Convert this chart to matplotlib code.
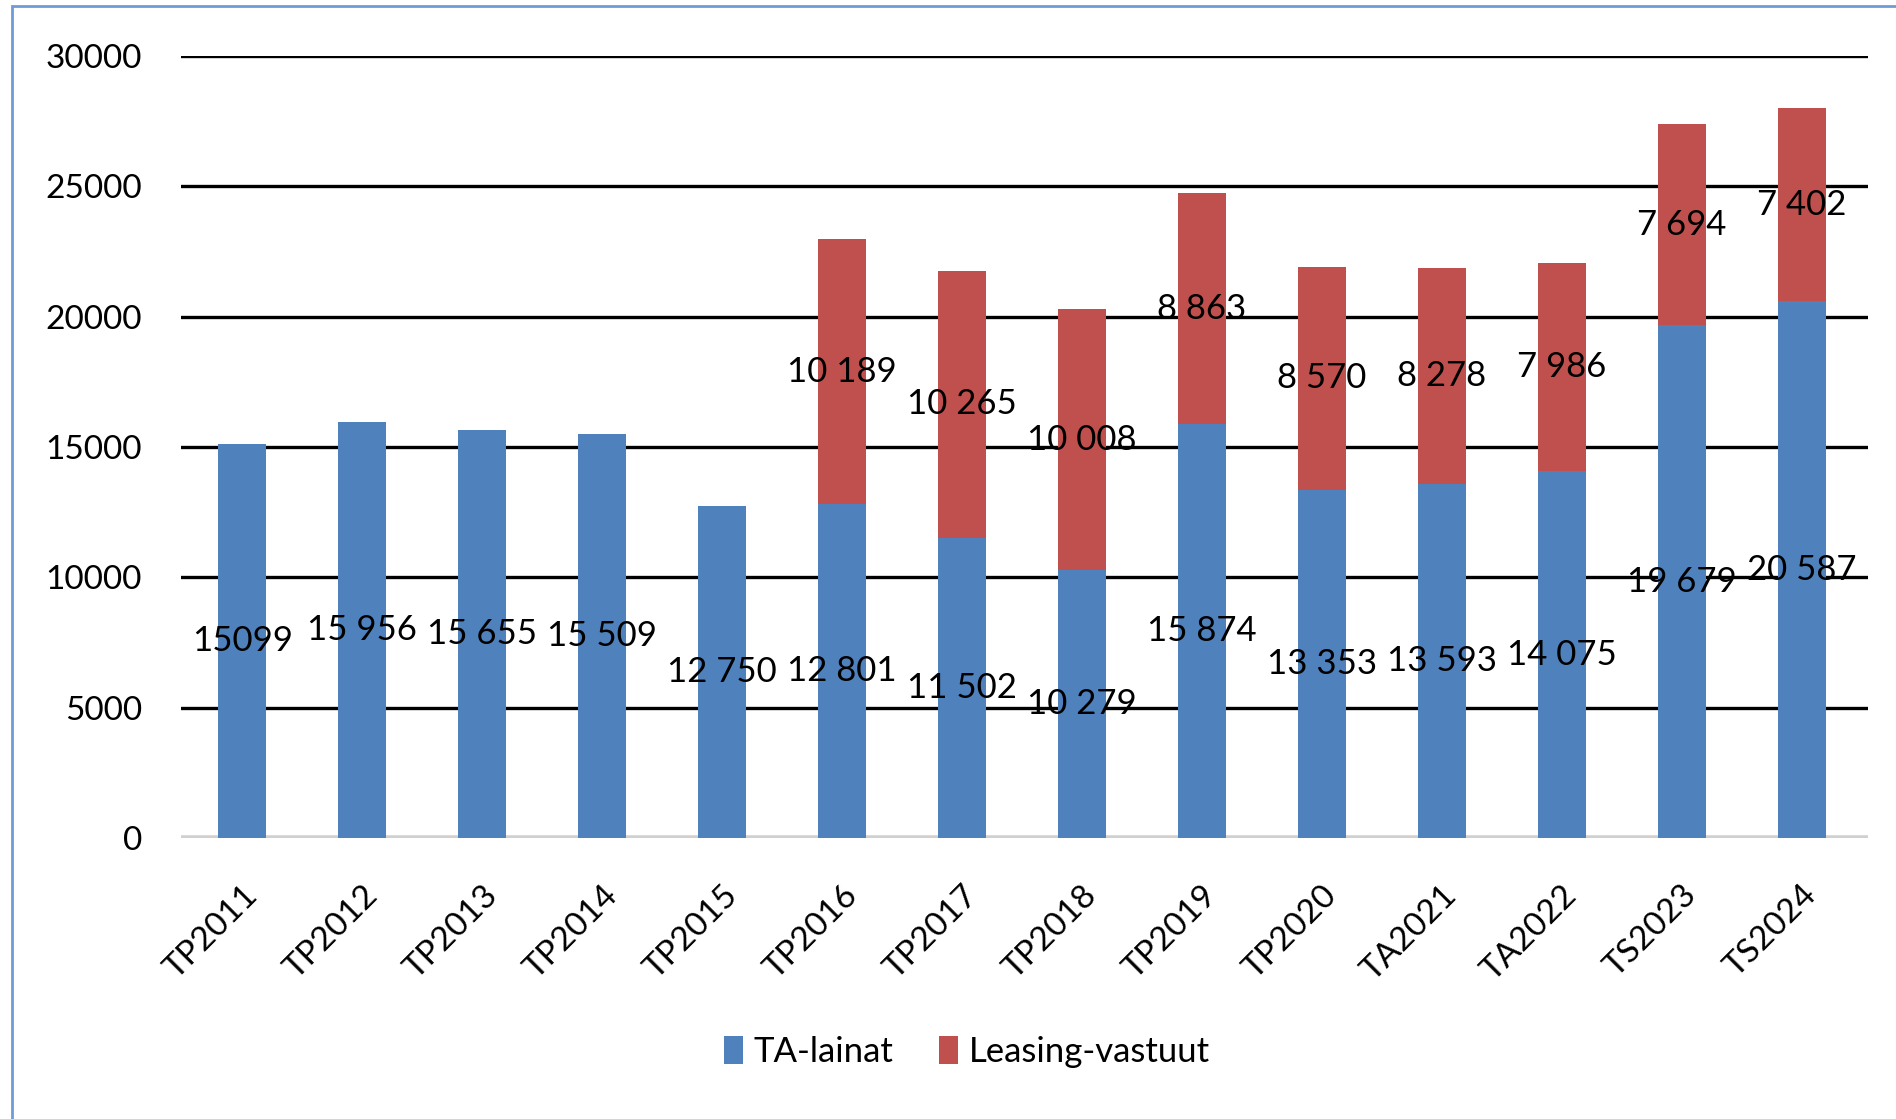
import matplotlib
matplotlib.use("Agg")
import matplotlib.pyplot as plt
from matplotlib.patches import Rectangle
import numpy as np

plt.rcParams["font.family"] = ["Lato", "DejaVu Sans"]

# data
years = ["TP2011", "TP2012", "TP2013", "TP2014", "TP2015", "TP2016", "TP2017",
         "TP2018", "TP2019", "TP2020", "TA2021", "TA2022", "TS2023", "TS2024"]
ta_lainat = [15099, 15956, 15655, 15509, 12750, 12801, 11502,
             10279, 15874, 13353, 13593, 14075, 19679, 20587]
leasing = [0, 0, 0, 0, 0, 10189, 10265, 10008, 8863, 8570, 8278, 7986, 7694, 7402]

ta_labels = ["15099", "15 956", "15 655", "15 509", "12 750", "12 801", "11 502",
             "10 279", "15 874", "13 353", "13 593", "14 075", "19 679", "20 587"]
leasing_labels = ["", "", "", "", "", "10 189", "10 265", "10 008", "8 863",
                  "8 570", "8 278", "7 986", "7 694", "7 402"]

BLUE = "#4f81bd"
RED = "#c0504d"

fig = plt.figure(figsize=(18.96, 11.19), dpi=100)
ax = fig.add_axes([0.0955, 0.251, 0.8895, 0.699])

x = np.arange(len(years))
b1 = ax.bar(x, ta_lainat, width=0.4, color=BLUE, label="TA-lainat", zorder=3)
b2 = ax.bar(x, leasing, width=0.4, bottom=ta_lainat, color=RED,
            label="Leasing-vastuut", zorder=3)

ax.bar_label(b1, labels=ta_labels, label_type="center", fontsize=25, zorder=5)
ax.bar_label(b2, labels=leasing_labels, label_type="center", fontsize=25, zorder=5)

ax.set_ylim(0, 30000)
ax.set_xlim(-0.51, 13.55)
ax.set_yticks(range(0, 30001, 5000))
ax.tick_params(axis="y", length=0, labelsize=24, pad=28)
ax.tick_params(axis="x", length=0, labelsize=24, pad=30)
ax.set_xticks(x)
ax.set_xticklabels(years, rotation=45, ha="right", rotation_mode="anchor")

# gridlines: black, zero line grey
for v in range(5000, 30001, 5000):
    ax.axhline(v, color="black", lw=2.4, zorder=1)
ax.axhline(0, color="#d0d0d0", lw=4, zorder=2)

for s in ax.spines.values():
    s.set_visible(False)

fig.legend(handles=[b1, b2], loc="center", bbox_to_anchor=(0.51, 0.06),
           ncol=2, frameon=False, fontsize=25, handlelength=0.55,
           handleheight=0.9, handletextpad=0.3, columnspacing=1.3)

# frame around the chart area
fig.patches.append(Rectangle((12 / 1896, -0.01), 1.2, 1 - 6 / 1119 + 0.01,
                             transform=fig.transFigure, fill=False,
                             edgecolor="#6f9bd8", lw=2))

fig.savefig("out.png", dpi=100)
